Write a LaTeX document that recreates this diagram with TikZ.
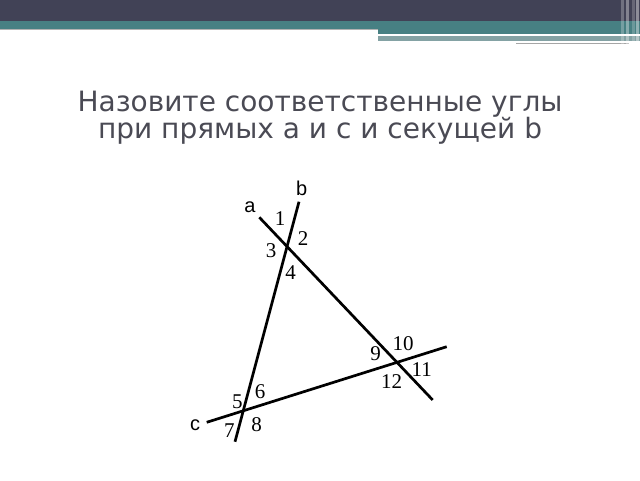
\documentclass[tikz,border=0pt]{standalone}
\usepackage{fontspec}
\setmainfont{Liberation Serif}
\newfontfamily\titlefont{DejaVu Sans}
\newfontfamily\letterfont{Liberation Sans}
\usetikzlibrary{positioning, calc}
\definecolor{barDark}{RGB}{65,66,86}
\definecolor{barTeal}{RGB}{71,128,131}
\definecolor{barPale}{RGB}{132,162,164}
\definecolor{titleGray}{RGB}{74,74,84}
\tikzset{
	line/.style={line width=2.7pt, black},
	num/.style={font=\fontsize{21}{21}\selectfont, inner sep=0pt},
	lbl/.style={font=\letterfont\fontsize{20}{20}\selectfont, inner sep=0pt},
	ttl/.style={font=\titlefont\fontsize{28}{28}\selectfont, text=titleGray, inner sep=0pt, anchor=base}
}

\begin{document}
\begin{tikzpicture}[x=1pt, y=-1pt]
	\useasboundingbox (0, 0) rectangle (640, 480);
	% header bars
	\fill[barDark] (0, 0) rectangle (640, 20.5);
	\fill[barTeal] (0, 20.5) rectangle (640, 28.5);
	\fill[gray!60] (0, 28.5) rectangle (378, 30);
	\fill[barTeal] (378, 28.5) rectangle (640, 34);
	\fill[white] (378, 34) rectangle (593, 35.5);
	\fill[barPale] (378, 35.5) rectangle (640, 41);
	\fill[white] (516, 41) rectangle (629, 42.5);
	\fill[gray!70] (516, 42.5) rectangle (629, 43.5);
	\foreach \x/\o in {621/0.25, 626/0.35, 632/0.2, 636/0.4}
		\fill[white, opacity=\o] (\x, 0) rectangle ++(2.5, 45);

	% title
	\node[ttl] (t1) at (320, 111.7) {Назовите соответственные углы};
	\node[ttl] (t2) at (320, 138.2) {при прямых а и с и секущей b};

	% lines a, b, c
	\coordinate (a0) at (259.3, 217.3);
	\coordinate (a1) at (432.7, 400);
	\coordinate (b0) at (299, 201.7);
	\coordinate (b1) at (235, 441.7);
	\coordinate (c0) at (206.7, 422.3);
	\coordinate (c1) at (446.7, 346.7);
	\draw[line] (a0) -- (a1);
	\draw[line] (b0) -- (b1);
	\draw[line] (c0) -- (c1);

	\node[lbl] (la) at (250, 207) {a};
	\node[lbl] (lb) at (301.7, 188) {b};
	\node[lbl] (lc) at (195, 425) {c};

	% angle numbers
	\node[num] (n1) at (280, 219) {1};
	\node[num] (n2) at (303, 239) {2};
	\node[num] (n3) at (271, 251) {3};
	\node[num] (n4) at (290.7, 273) {4};
	\node[num] (n5) at (237.3, 401.7) {5};
	\node[num] (n6) at (260, 391.7) {6};
	\node[num] (n7) at (229.3, 430.7) {7};
	\node[num] (n8) at (256.7, 425) {8};
	\node[num] (n9) at (375.7, 354) {9};
	\node[num] (n10) at (403, 344) {10};
	\node[num] (n11) at (421.7, 370) {11};
	\node[num] (n12) at (391.7, 381.7) {12};
\end{tikzpicture}
\end{document}
